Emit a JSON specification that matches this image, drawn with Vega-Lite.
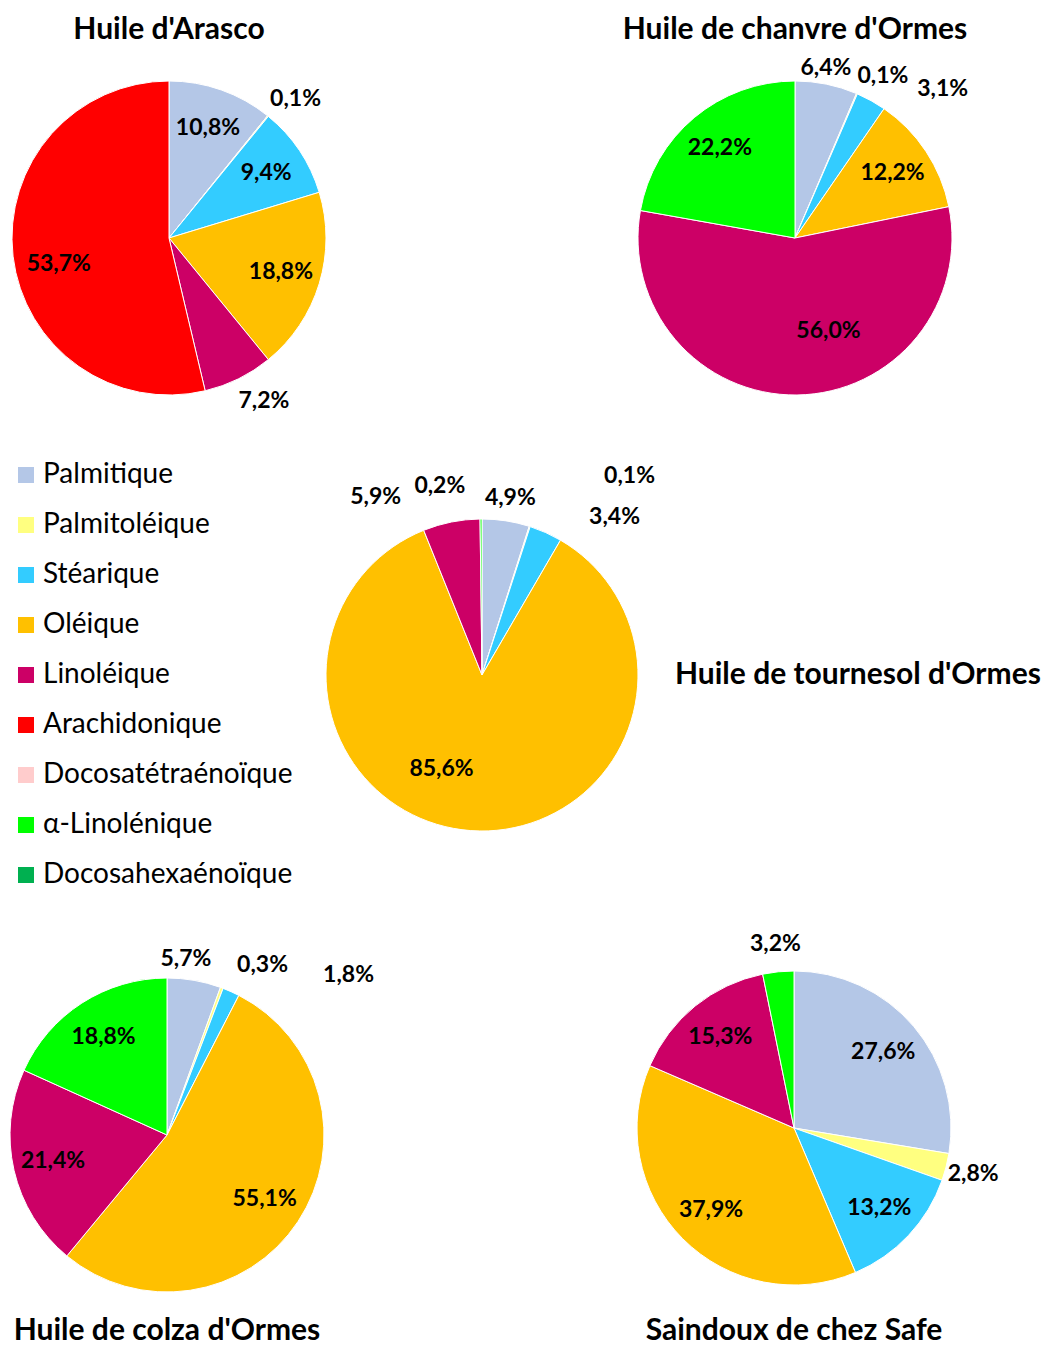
{
  "$schema": "https://vega.github.io/schema/vega-lite/v6.json",
  "background": "white",
  "padding": {"left": 0, "top": 15, "right": 0, "bottom": 0},
  "config": {
    "view": {"stroke": null},
    "font": "Lato",
    "locale": {"number": {"decimal": ",", "thousands": " ", "grouping": [3], "currency": ["", " €"]}},
    "title": {"font": "Lato", "fontSize": 30, "fontWeight": "bold", "color": "black", "frame": "group", "anchor": "middle"}
  },
  "data": {"values": [
    {"huile": "Huile d'Arasco", "acide": "Palmitique", "rang": 1, "v": 0.108},
    {"huile": "Huile d'Arasco", "acide": "Palmitoléique", "rang": 2, "v": 0.001},
    {"huile": "Huile d'Arasco", "acide": "Stéarique", "rang": 3, "v": 0.094},
    {"huile": "Huile d'Arasco", "acide": "Oléique", "rang": 4, "v": 0.188},
    {"huile": "Huile d'Arasco", "acide": "Linoléique", "rang": 5, "v": 0.072},
    {"huile": "Huile d'Arasco", "acide": "Arachidonique", "rang": 6, "v": 0.537},
    {"huile": "Huile de chanvre d'Ormes", "acide": "Palmitique", "rang": 1, "v": 0.064},
    {"huile": "Huile de chanvre d'Ormes", "acide": "Palmitoléique", "rang": 2, "v": 0.001},
    {"huile": "Huile de chanvre d'Ormes", "acide": "Stéarique", "rang": 3, "v": 0.031},
    {"huile": "Huile de chanvre d'Ormes", "acide": "Oléique", "rang": 4, "v": 0.122},
    {"huile": "Huile de chanvre d'Ormes", "acide": "Linoléique", "rang": 5, "v": 0.56},
    {"huile": "Huile de chanvre d'Ormes", "acide": "α-Linolénique", "rang": 8, "v": 0.222},
    {"huile": "Huile de tournesol d'Ormes", "acide": "Palmitique", "rang": 1, "v": 0.049},
    {"huile": "Huile de tournesol d'Ormes", "acide": "Palmitoléique", "rang": 2, "v": 0.001},
    {"huile": "Huile de tournesol d'Ormes", "acide": "Stéarique", "rang": 3, "v": 0.034},
    {"huile": "Huile de tournesol d'Ormes", "acide": "Oléique", "rang": 4, "v": 0.856},
    {"huile": "Huile de tournesol d'Ormes", "acide": "Linoléique", "rang": 5, "v": 0.059},
    {"huile": "Huile de tournesol d'Ormes", "acide": "α-Linolénique", "rang": 8, "v": 0.002},
    {"huile": "Huile de colza d'Ormes", "acide": "Palmitique", "rang": 1, "v": 0.057},
    {"huile": "Huile de colza d'Ormes", "acide": "Palmitoléique", "rang": 2, "v": 0.003},
    {"huile": "Huile de colza d'Ormes", "acide": "Stéarique", "rang": 3, "v": 0.018},
    {"huile": "Huile de colza d'Ormes", "acide": "Oléique", "rang": 4, "v": 0.551},
    {"huile": "Huile de colza d'Ormes", "acide": "Linoléique", "rang": 5, "v": 0.214},
    {"huile": "Huile de colza d'Ormes", "acide": "α-Linolénique", "rang": 8, "v": 0.188},
    {"huile": "Saindoux de chez Safe", "acide": "Palmitique", "rang": 1, "v": 0.276},
    {"huile": "Saindoux de chez Safe", "acide": "Palmitoléique", "rang": 2, "v": 0.028},
    {"huile": "Saindoux de chez Safe", "acide": "Stéarique", "rang": 3, "v": 0.132},
    {"huile": "Saindoux de chez Safe", "acide": "Oléique", "rang": 4, "v": 0.379},
    {"huile": "Saindoux de chez Safe", "acide": "Linoléique", "rang": 5, "v": 0.153},
    {"huile": "Saindoux de chez Safe", "acide": "α-Linolénique", "rang": 8, "v": 0.032}
  ]},
  "spacing": 27,
  "vconcat": [
    {
      "bounds": "flush",
      "spacing": 290,
      "hconcat": [
        {
          "width": 338, "height": 380,
          "title": {"text": "Huile d'Arasco", "orient": "top", "baseline": "top", "offset": 3},
          "transform": [{"filter": {"field": "huile", "equal": "Huile d'Arasco"}}],
          "encoding": {
            "theta": {"field": "v", "type": "quantitative", "stack": "normalize"},
            "order": {"field": "rang", "type": "quantitative"}
          },
          "layer": [
            {"mark": {"type": "arc", "outerRadius": 157, "stroke": "white", "strokeWidth": 1},
             "encoding": {"color": {"field": "acide", "type": "nominal",
               "scale": {"domain": ["Palmitique", "Palmitoléique", "Stéarique", "Oléique", "Linoléique", "Arachidonique", "Docosatétraénoïque", "α-Linolénique", "Docosahexaénoïque"],
                         "range": ["#B4C7E7", "#FFFF80", "#33CCFF", "#FFC000", "#CC0066", "#FF0000", "#FFCCCC", "#00FF00", "#00B050"]},
               "legend": {"title": null, "orient": "none", "direction": "vertical", "legendX": 12, "legendY": 413, "symbolType": "square", "symbolSize": 256, "symbolStrokeWidth": 0, "labelFont": "Lato", "labelFontSize": 28, "labelColor": "black", "labelOffset": 3, "rowPadding": 22, "padding": 0, "labelLimit": 600}}}},
            {"mark": {"type": "text", "font": "Lato", "fontSize": 23, "fontWeight": "bold", "color": "black", "align": "center", "baseline": "middle", "radius": 117},
             "encoding": {
               "detail": {"field": "acide", "type": "nominal"},
               "text": {"condition": {"test": "datum.acide === 'Palmitique' || datum.acide === 'Stéarique' || datum.acide === 'Oléique'", "field": "v", "type": "quantitative", "format": ".1%"}, "value": ""}}},
            {"mark": {"type": "text", "font": "Lato", "fontSize": 23, "fontWeight": "bold", "color": "black", "align": "center", "baseline": "middle", "radius": 117, "dx": 6, "dy": 12},
             "encoding": {
               "detail": {"field": "acide", "type": "nominal"},
               "text": {"condition": {"test": "datum.acide === 'Arachidonique'", "field": "v", "type": "quantitative", "format": ".1%"}, "value": ""}}},
            {"mark": {"type": "text", "font": "Lato", "fontSize": 23, "fontWeight": "bold", "color": "black", "align": "center", "baseline": "middle", "dx": 10, "dy": 5},
             "encoding": {
               "detail": {"field": "acide", "type": "nominal"},
               "radius": {"field": "v", "type": "quantitative", "scale": {"type": "linear", "domain": [0.079, 0.081], "range": [185, 117], "clamp": true, "zero": false, "nice": false}},
               "text": {"condition": {"test": "datum.acide === 'Palmitoléique'", "field": "v", "type": "quantitative", "format": ".1%"}, "value": ""}}},
            {"mark": {"type": "text", "font": "Lato", "fontSize": 23, "fontWeight": "bold", "color": "black", "align": "center", "baseline": "middle", "dx": 13, "dy": -3},
             "encoding": {
               "detail": {"field": "acide", "type": "nominal"},
               "radius": {"field": "v", "type": "quantitative", "scale": {"type": "linear", "domain": [0.079, 0.081], "range": [185, 117], "clamp": true, "zero": false, "nice": false}},
               "text": {"condition": {"test": "datum.acide === 'Linoléique'", "field": "v", "type": "quantitative", "format": ".1%"}, "value": ""}}}
          ]
        },
        {
          "width": 334, "height": 380,
          "title": {"text": "Huile de chanvre d'Ormes", "orient": "top", "baseline": "top", "offset": 3},
          "transform": [{"filter": {"field": "huile", "equal": "Huile de chanvre d'Ormes"}}],
          "encoding": {
            "theta": {"field": "v", "type": "quantitative", "stack": "normalize"},
            "order": {"field": "rang", "type": "quantitative"}
          },
          "layer": [
            {"mark": {"type": "arc", "outerRadius": 157, "stroke": "white", "strokeWidth": 1},
             "encoding": {"color": {"field": "acide", "type": "nominal",
               "scale": {"domain": ["Palmitique", "Palmitoléique", "Stéarique", "Oléique", "Linoléique", "Arachidonique", "Docosatétraénoïque", "α-Linolénique", "Docosahexaénoïque"],
                         "range": ["#B4C7E7", "#FFFF80", "#33CCFF", "#FFC000", "#CC0066", "#FF0000", "#FFCCCC", "#00FF00", "#00B050"]},
               "legend": {"title": null, "orient": "none", "direction": "vertical", "legendX": 12, "legendY": 413, "symbolType": "square", "symbolSize": 256, "symbolStrokeWidth": 0, "labelFont": "Lato", "labelFontSize": 28, "labelColor": "black", "labelOffset": 3, "rowPadding": 22, "padding": 0, "labelLimit": 600}}}},
            {"mark": {"type": "text", "font": "Lato", "fontSize": 23, "fontWeight": "bold", "color": "black", "align": "center", "baseline": "middle", "radius": 117},
             "encoding": {
               "detail": {"field": "acide", "type": "nominal"},
               "text": {"condition": {"test": "datum.acide === 'Oléique' || datum.acide === 'α-Linolénique'", "field": "v", "type": "quantitative", "format": ".1%"}, "value": ""}}},
            {"mark": {"type": "text", "font": "Lato", "fontSize": 23, "fontWeight": "bold", "color": "black", "align": "center", "baseline": "middle", "dx": -6, "dy": 11},
             "encoding": {
               "detail": {"field": "acide", "type": "nominal"},
               "radius": {"field": "v", "type": "quantitative", "scale": {"type": "linear", "domain": [0.079, 0.081], "range": [185, 117], "clamp": true, "zero": false, "nice": false}},
               "text": {"condition": {"test": "datum.acide === 'Palmitique'", "field": "v", "type": "quantitative", "format": ".1%"}, "value": ""}}},
            {"mark": {"type": "text", "font": "Lato", "fontSize": 23, "fontWeight": "bold", "color": "black", "align": "center", "baseline": "middle", "dx": 15, "dy": 8},
             "encoding": {
               "detail": {"field": "acide", "type": "nominal"},
               "radius": {"field": "v", "type": "quantitative", "scale": {"type": "linear", "domain": [0.079, 0.081], "range": [185, 117], "clamp": true, "zero": false, "nice": false}},
               "text": {"condition": {"test": "datum.acide === 'Palmitoléique'", "field": "v", "type": "quantitative", "format": ".1%"}, "value": ""}}},
            {"mark": {"type": "text", "font": "Lato", "fontSize": 23, "fontWeight": "bold", "color": "black", "align": "center", "baseline": "middle", "dx": 58, "dy": 13},
             "encoding": {
               "detail": {"field": "acide", "type": "nominal"},
               "radius": {"field": "v", "type": "quantitative", "scale": {"type": "linear", "domain": [0.079, 0.081], "range": [185, 117], "clamp": true, "zero": false, "nice": false}},
               "text": {"condition": {"test": "datum.acide === 'Stéarique'", "field": "v", "type": "quantitative", "format": ".1%"}, "value": ""}}},
            {"mark": {"type": "text", "font": "Lato", "fontSize": 23, "fontWeight": "bold", "color": "black", "align": "center", "baseline": "middle", "radius": 117, "dx": 32, "dy": -24},
             "encoding": {
               "detail": {"field": "acide", "type": "nominal"},
               "text": {"condition": {"test": "datum.acide === 'Linoléique'", "field": "v", "type": "quantitative", "format": ".1%"}, "value": ""}}}
          ]
        }
      ]
    },
    {
      "width": 964, "height": 440,
      "title": {"text": "Huile de tournesol d'Ormes", "orient": "right", "angle": 0, "align": "right", "baseline": "middle", "offset": -289},
      "transform": [{"filter": {"field": "huile", "equal": "Huile de tournesol d'Ormes"}}],
      "encoding": {
        "theta": {"field": "v", "type": "quantitative", "stack": "normalize"},
        "order": {"field": "rang", "type": "quantitative"}
      },
      "layer": [
        {"mark": {"type": "arc", "outerRadius": 156, "stroke": "white", "strokeWidth": 1},
         "encoding": {"color": {"field": "acide", "type": "nominal",
           "scale": {"domain": ["Palmitique", "Palmitoléique", "Stéarique", "Oléique", "Linoléique", "Arachidonique", "Docosatétraénoïque", "α-Linolénique", "Docosahexaénoïque"],
                     "range": ["#B4C7E7", "#FFFF80", "#33CCFF", "#FFC000", "#CC0066", "#FF0000", "#FFCCCC", "#00FF00", "#00B050"]},
           "legend": {"title": null, "orient": "none", "direction": "vertical", "legendX": 12, "legendY": 413, "symbolType": "square", "symbolSize": 256, "symbolStrokeWidth": 0, "labelFont": "Lato", "labelFontSize": 28, "labelColor": "black", "labelOffset": 3, "rowPadding": 22, "padding": 0, "labelLimit": 600}}}},
        {"mark": {"type": "text", "font": "Lato", "fontSize": 23, "fontWeight": "bold", "color": "black", "align": "center", "baseline": "middle", "dy": 6},
         "encoding": {
           "detail": {"field": "acide", "type": "nominal"},
           "radius": {"field": "v", "type": "quantitative", "scale": {"type": "linear", "domain": [0.079, 0.081], "range": [185, 117], "clamp": true, "zero": false, "nice": false}},
           "text": {"condition": {"test": "datum.acide === 'Palmitique'", "field": "v", "type": "quantitative", "format": ".1%"}, "value": ""}}},
        {"mark": {"type": "text", "font": "Lato", "fontSize": 23, "fontWeight": "bold", "color": "black", "align": "center", "baseline": "middle", "dx": 91, "dy": -23},
         "encoding": {
           "detail": {"field": "acide", "type": "nominal"},
           "radius": {"field": "v", "type": "quantitative", "scale": {"type": "linear", "domain": [0.079, 0.081], "range": [185, 117], "clamp": true, "zero": false, "nice": false}},
           "text": {"condition": {"test": "datum.acide === 'Palmitoléique'", "field": "v", "type": "quantitative", "format": ".1%"}, "value": ""}}},
        {"mark": {"type": "text", "font": "Lato", "fontSize": 23, "fontWeight": "bold", "color": "black", "align": "center", "baseline": "middle", "dx": 57, "dy": 11},
         "encoding": {
           "detail": {"field": "acide", "type": "nominal"},
           "radius": {"field": "v", "type": "quantitative", "scale": {"type": "linear", "domain": [0.079, 0.081], "range": [185, 117], "clamp": true, "zero": false, "nice": false}},
           "text": {"condition": {"test": "datum.acide === 'Stéarique'", "field": "v", "type": "quantitative", "format": ".1%"}, "value": ""}}},
        {"mark": {"type": "text", "font": "Lato", "fontSize": 23, "fontWeight": "bold", "color": "black", "align": "center", "baseline": "middle", "radius": 117, "dx": -32, "dy": -23},
         "encoding": {
           "detail": {"field": "acide", "type": "nominal"},
           "text": {"condition": {"test": "datum.acide === 'Oléique'", "field": "v", "type": "quantitative", "format": ".1%"}, "value": ""}}},
        {"mark": {"type": "text", "font": "Lato", "fontSize": 23, "fontWeight": "bold", "color": "black", "align": "center", "baseline": "middle", "dx": -70, "dy": 3},
         "encoding": {
           "detail": {"field": "acide", "type": "nominal"},
           "radius": {"field": "v", "type": "quantitative", "scale": {"type": "linear", "domain": [0.079, 0.081], "range": [185, 117], "clamp": true, "zero": false, "nice": false}},
           "text": {"condition": {"test": "datum.acide === 'Linoléique'", "field": "v", "type": "quantitative", "format": ".1%"}, "value": ""}}},
        {"mark": {"type": "text", "font": "Lato", "fontSize": 23, "fontWeight": "bold", "color": "black", "align": "center", "baseline": "middle", "dx": -41, "dy": -4},
         "encoding": {
           "detail": {"field": "acide", "type": "nominal"},
           "radius": {"field": "v", "type": "quantitative", "scale": {"type": "linear", "domain": [0.079, 0.081], "range": [185, 117], "clamp": true, "zero": false, "nice": false}},
           "text": {"condition": {"test": "datum.acide === 'α-Linolénique'", "field": "v", "type": "quantitative", "format": ".1%"}, "value": ""}}}
      ]
    },
    {
      "bounds": "flush",
      "spacing": 293,
      "hconcat": [
        {
          "width": 334, "height": 426,
          "title": {"text": "Huile de colza d'Ormes", "orient": "bottom", "baseline": "top", "offset": -32},
          "transform": [{"filter": {"field": "huile", "equal": "Huile de colza d'Ormes"}}],
          "encoding": {
            "theta": {"field": "v", "type": "quantitative", "stack": "normalize"},
            "order": {"field": "rang", "type": "quantitative"}
          },
          "layer": [
            {"mark": {"type": "arc", "outerRadius": 157, "stroke": "white", "strokeWidth": 1},
             "encoding": {"color": {"field": "acide", "type": "nominal",
               "scale": {"domain": ["Palmitique", "Palmitoléique", "Stéarique", "Oléique", "Linoléique", "Arachidonique", "Docosatétraénoïque", "α-Linolénique", "Docosahexaénoïque"],
                         "range": ["#B4C7E7", "#FFFF80", "#33CCFF", "#FFC000", "#CC0066", "#FF0000", "#FFCCCC", "#00FF00", "#00B050"]},
               "legend": {"title": null, "orient": "none", "direction": "vertical", "legendX": 12, "legendY": 413, "symbolType": "square", "symbolSize": 256, "symbolStrokeWidth": 0, "labelFont": "Lato", "labelFontSize": 28, "labelColor": "black", "labelOffset": 3, "rowPadding": 22, "padding": 0, "labelLimit": 600}}}},
            {"mark": {"type": "text", "font": "Lato", "fontSize": 23, "fontWeight": "bold", "color": "black", "align": "center", "baseline": "middle", "radius": 117},
             "encoding": {
               "detail": {"field": "acide", "type": "nominal"},
               "text": {"condition": {"test": "datum.acide === 'Oléique' || datum.acide === 'Linoléique' || datum.acide === 'α-Linolénique'", "field": "v", "type": "quantitative", "format": ".1%"}, "value": ""}}},
            {"mark": {"type": "text", "font": "Lato", "fontSize": 23, "fontWeight": "bold", "color": "black", "align": "center", "baseline": "middle", "dx": -13, "dy": 6},
             "encoding": {
               "detail": {"field": "acide", "type": "nominal"},
               "radius": {"field": "v", "type": "quantitative", "scale": {"type": "linear", "domain": [0.079, 0.081], "range": [185, 117], "clamp": true, "zero": false, "nice": false}},
               "text": {"condition": {"test": "datum.acide === 'Palmitique'", "field": "v", "type": "quantitative", "format": ".1%"}, "value": ""}}},
            {"mark": {"type": "text", "font": "Lato", "fontSize": 23, "fontWeight": "bold", "color": "black", "align": "center", "baseline": "middle", "dx": 31, "dy": 3},
             "encoding": {
               "detail": {"field": "acide", "type": "nominal"},
               "radius": {"field": "v", "type": "quantitative", "scale": {"type": "linear", "domain": [0.079, 0.081], "range": [185, 117], "clamp": true, "zero": false, "nice": false}},
               "text": {"condition": {"test": "datum.acide === 'Palmitoléique'", "field": "v", "type": "quantitative", "format": ".1%"}, "value": ""}}},
            {"mark": {"type": "text", "font": "Lato", "fontSize": 23, "fontWeight": "bold", "color": "black", "align": "center", "baseline": "middle", "dx": 106, "dy": 9},
             "encoding": {
               "detail": {"field": "acide", "type": "nominal"},
               "radius": {"field": "v", "type": "quantitative", "scale": {"type": "linear", "domain": [0.079, 0.081], "range": [185, 117], "clamp": true, "zero": false, "nice": false}},
               "text": {"condition": {"test": "datum.acide === 'Stéarique'", "field": "v", "type": "quantitative", "format": ".1%"}, "value": ""}}}
          ]
        },
        {
          "width": 334, "height": 412,
          "title": {"text": "Saindoux de chez Safe", "orient": "bottom", "baseline": "top", "offset": -18},
          "transform": [{"filter": {"field": "huile", "equal": "Saindoux de chez Safe"}}],
          "encoding": {
            "theta": {"field": "v", "type": "quantitative", "stack": "normalize"},
            "order": {"field": "rang", "type": "quantitative"}
          },
          "layer": [
            {"mark": {"type": "arc", "outerRadius": 157, "stroke": "white", "strokeWidth": 1},
             "encoding": {"color": {"field": "acide", "type": "nominal",
               "scale": {"domain": ["Palmitique", "Palmitoléique", "Stéarique", "Oléique", "Linoléique", "Arachidonique", "Docosatétraénoïque", "α-Linolénique", "Docosahexaénoïque"],
                         "range": ["#B4C7E7", "#FFFF80", "#33CCFF", "#FFC000", "#CC0066", "#FF0000", "#FFCCCC", "#00FF00", "#00B050"]},
               "legend": {"title": null, "orient": "none", "direction": "vertical", "legendX": 12, "legendY": 413, "symbolType": "square", "symbolSize": 256, "symbolStrokeWidth": 0, "labelFont": "Lato", "labelFontSize": 28, "labelColor": "black", "labelOffset": 3, "rowPadding": 22, "padding": 0, "labelLimit": 600}}}},
            {"mark": {"type": "text", "font": "Lato", "fontSize": 23, "fontWeight": "bold", "color": "black", "align": "center", "baseline": "middle"},
             "encoding": {
               "detail": {"field": "acide", "type": "nominal"},
               "radius": {"field": "v", "type": "quantitative", "scale": {"type": "linear", "domain": [0.079, 0.081], "range": [185, 117], "clamp": true, "zero": false, "nice": false}},
               "text": {"field": "v", "type": "quantitative", "format": ".1%"}}}
          ]
        }
      ]
    }
  ]
}
